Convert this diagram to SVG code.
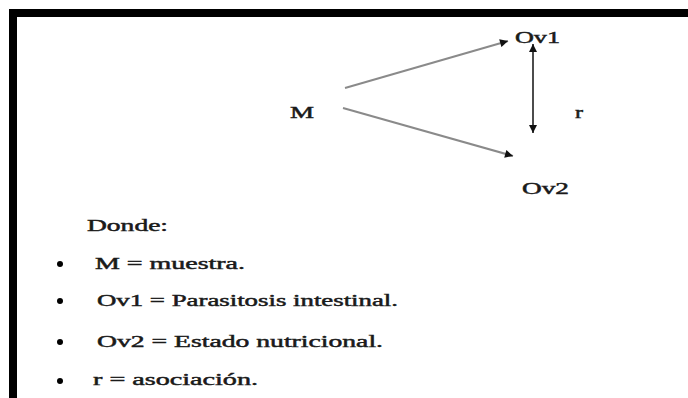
<svg xmlns="http://www.w3.org/2000/svg" width="688" height="398" viewBox="0 0 688 398">
  <style>
    .t { font-family: "Liberation Serif", "Times New Roman", serif; font-size: 16px; fill: #1a1a1a; stroke: #1a1a1a; stroke-width: 0.45; }
    .gray { stroke: #8a8a8a; stroke-width: 2; fill: none; }
    .blk { stroke: #111; stroke-width: 1.5; fill: none; }
  </style>
  <defs>
    <marker id="ah" viewBox="0 0 10 10" refX="10" refY="5" markerUnits="userSpaceOnUse" markerWidth="11" markerHeight="8" orient="auto-start-reverse">
      <path d="M0,0 L10,5 L0,10 z" fill="#111"/>
    </marker>
  </defs>
  <rect width="688" height="398" fill="#fff"/>
  <g id="frame" fill="#000">
    <rect x="9" y="9" width="679" height="8"/>
    <rect x="9" y="9" width="8" height="389"/>
  </g>
  <g id="connectors">
    <line class="gray" x1="345" y1="88" x2="508" y2="41" marker-end="url(#ah)"/>
    <line class="gray" x1="343" y1="108" x2="513" y2="156" marker-end="url(#ah)"/>
    <line class="blk" x1="533" y1="44" x2="533" y2="133" marker-start="url(#ah)" marker-end="url(#ah)"/>
  </g>
  <g id="node-M"><text class="t" x="290" y="118" textLength="24" lengthAdjust="spacingAndGlyphs">M</text></g>
  <g id="node-Ov1"><text class="t" x="515" y="43" textLength="45" lengthAdjust="spacingAndGlyphs">Ov1</text></g>
  <g id="node-Ov2"><text class="t" x="522" y="194" textLength="47" lengthAdjust="spacingAndGlyphs">Ov2</text></g>
  <g id="label-r"><text class="t" x="575" y="118" textLength="8" lengthAdjust="spacingAndGlyphs">r</text></g>
  <g id="legend">
    <text class="t" x="87" y="231" textLength="81" lengthAdjust="spacingAndGlyphs">Donde:</text>
    <circle cx="60" cy="264" r="3"/>
    <text class="t" x="95" y="269" textLength="150" lengthAdjust="spacingAndGlyphs">M = muestra.</text>
    <circle cx="60" cy="301" r="3"/>
    <text class="t" x="97" y="306" textLength="301" lengthAdjust="spacingAndGlyphs">Ov1 = Parasitosis intestinal.</text>
    <circle cx="60" cy="342" r="3"/>
    <text class="t" x="97" y="347" textLength="286" lengthAdjust="spacingAndGlyphs">Ov2 = Estado nutricional.</text>
    <circle cx="60" cy="381" r="3"/>
    <text class="t" x="93" y="385" textLength="165" lengthAdjust="spacingAndGlyphs">r = asociación.</text>
  </g>
</svg>
